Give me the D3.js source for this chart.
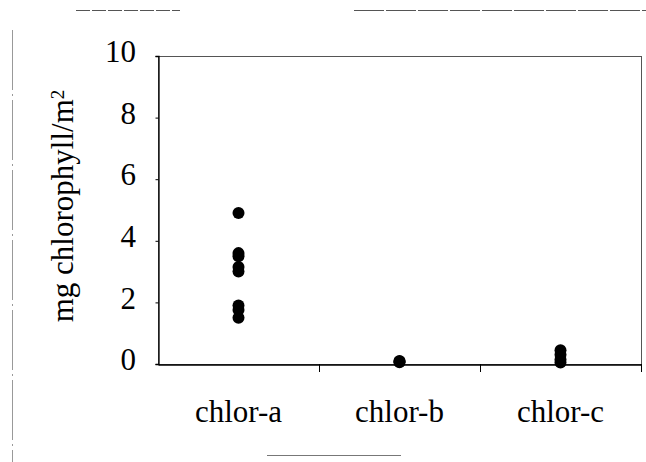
<!DOCTYPE html>
<html>
<head>
<meta charset="utf-8">
<script src="https://cdn.jsdelivr.net/npm/d3@7"></script>
<style>
  html, body { margin: 0; padding: 0; background: #fff; }
  svg { display: block; }
</style>
</head>
<body>
<svg id="chart" width="646" height="462" font-family="Liberation Serif, Times New Roman, serif"></svg>
<script>
// ---- data ----
const categories = ["chlor-a", "chlor-b", "chlor-c"];
const chlorA = [4.9, 3.6, 3.5, 3.15, 3.0, 1.9, 1.75, 1.5];
const chlorB = [0.1, 0.08, 0.06];
const chlorC = [0.45, 0.3, 0.15, 0.05];
const yTicks = [0, 2, 4, 6, 8, 10];
const yTitle = "mg chlorophyll/m";
const yTitleSup = "2";

const seriesValues = [chlorA, chlorB, chlorC];
const points = [];
categories.forEach((c, i) => seriesValues[i].forEach(v => points.push({ cat: c, value: v })));

const FONT = "Liberation Serif, Times New Roman, serif";

// ---- layout ----
const svg = d3.select("#chart");
const plotLeft = 158, plotRight = 641, plotTop = 56, plotBottom = 364;

const x = d3.scaleBand().domain(categories).range([plotLeft, plotRight]).padding(0);
const y = d3.scaleLinear().domain([0, 10]).range([plotBottom, plotTop]);

// scan-like decorative lines
const deco = svg.append("g").attr("stroke", "#555").attr("stroke-width", 1).attr("fill", "none");
deco.append("line").attr("x1", 76).attr("x2", 180).attr("y1", 10.5).attr("y2", 10.5).attr("stroke-dasharray", "14,2");
deco.append("line").attr("x1", 354).attr("x2", 646).attr("y1", 10.5).attr("y2", 10.5).attr("stroke-dasharray", "30,2");
deco.append("line").attr("x1", 267).attr("x2", 401).attr("y1", 455.5).attr("y2", 455.5).attr("stroke", "#777");
deco.append("line").attr("x1", 12.5).attr("x2", 12.5).attr("y1", 30).attr("y2", 462).attr("stroke", "#999").attr("stroke-dasharray", "60,4,2,4");

// plot frame
svg.append("rect")
  .attr("x", plotLeft + 0.5).attr("y", plotTop + 0.5)
  .attr("width", plotRight - plotLeft).attr("height", plotBottom - plotTop)
  .attr("fill", "none").attr("stroke", "#555").attr("stroke-width", 1);

// y axis (ticks only from the axis; labels drawn as plain text from the same scale)
const yAxis = d3.axisLeft(y).tickValues(yTicks).tickSize(3).tickFormat("");
const gy = svg.append("g").attr("transform", `translate(${plotLeft + 0.5},0)`).call(yAxis);
gy.select(".domain").attr("stroke", "#000").attr("stroke-width", 1.3);
gy.selectAll(".tick line").attr("stroke", "#000");
svg.append("g").selectAll("text").data(yTicks).join("text")
  .attr("x", plotLeft - 22)
  .attr("y", d => y(d))
  .attr("dy", "0.2em")
  .attr("text-anchor", "end")
  .attr("font-family", FONT)
  .attr("font-size", 31)
  .style("font-family", FONT)
  .attr("fill", "#000")
  .text(d => d);

// x axis: line, ticks at band boundaries, labels
const xAxis = d3.axisBottom(x).tickSize(0).tickFormat("");
const gx = svg.append("g").attr("transform", `translate(0,${plotBottom + 0.5})`).call(xAxis);
gx.select(".domain").attr("stroke", "#000").attr("stroke-width", 1.3);
const boundaries = categories.map(c => x(c) + x.bandwidth()).filter(b => b < plotRight + 1);
svg.append("g").selectAll("line").data(boundaries).join("line")
  .attr("x1", d => Math.round(d) + 0.5).attr("x2", d => Math.round(d) + 0.5)
  .attr("y1", plotBottom).attr("y2", plotBottom + 8)
  .attr("stroke", "#000");
svg.append("g").selectAll("text").data(categories).join("text")
  .attr("x", d => x(d) + x.bandwidth() / 2)
  .attr("y", plotBottom + 58)
  .attr("text-anchor", "middle")
  .attr("font-family", FONT)
  .attr("font-size", 31)
  .style("font-family", FONT)
  .attr("fill", "#000")
  .text(d => d);

// points
svg.append("g").selectAll("circle").data(points).join("circle")
  .attr("cx", d => x(d.cat) + x.bandwidth() / 2)
  .attr("cy", d => y(d.value))
  .attr("r", 6)
  .attr("fill", "#000");

// y title
const title = svg.append("text")
  .attr("transform", `translate(73,${(plotTop + plotBottom) / 2 - 4}) rotate(-90)`)
  .attr("text-anchor", "middle")
  .attr("font-family", FONT)
  .style("font-family", FONT)
  .attr("font-size", 31)
  .attr("fill", "#000");
title.append("tspan").text(yTitle);
title.append("tspan").attr("dy", "-0.45em").attr("font-size", 19).text(yTitleSup);
</script>
</body>
</html>
